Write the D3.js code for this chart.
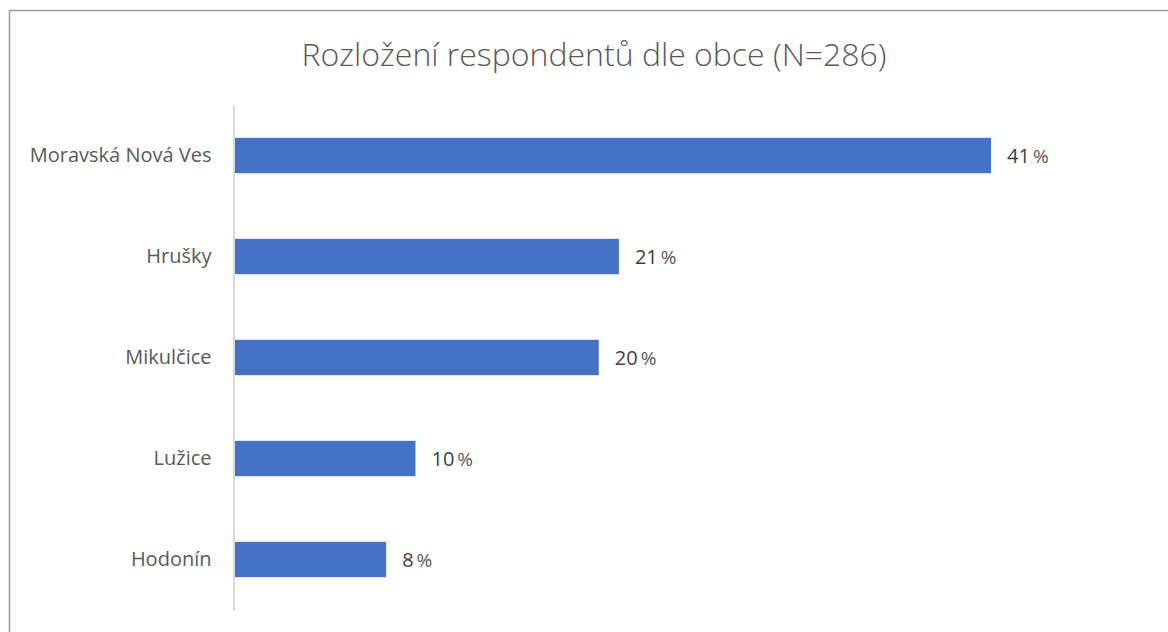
<!DOCTYPE html>
<html>
<head>
<meta charset="utf-8">
<script src="https://cdn.jsdelivr.net/npm/d3@7"></script>
<style>
  body { margin: 0; background: #fff; }
  text { font-family: "Open Sans", "Noto Sans", sans-serif; }
</style>
</head>
<body>
<div id="chart"></div>
<script>
const title = "Rozložení respondentů dle obce (N=286)";
const obce = ["Moravská Nová Ves", "Hrušky", "Mikulčice", "Lužice", "Hodonín"];
const podil = [41.3, 21.0, 19.9, 9.9, 8.3];

const W = 1168, H = 632;
const margin = {top: 105, right: 130, bottom: 22, left: 234};

const svg = d3.select("#chart").append("svg")
    .attr("width", W)
    .attr("height", H);

// frame (only top + left visible in the crop)
svg.append("path")
    .attr("d", `M9.5,${H} V10.5 H${W}`)
    .attr("fill", "none")
    .attr("stroke", "#9a9a9a")
    .attr("stroke-width", 1.5);

svg.append("text")
    .attr("x", 594)
    .attr("y", 66)
    .attr("text-anchor", "middle")
    .style("font-size", "32px")
    .style("font-weight", 300)
    .style("fill", "#595959")
    .text(title);

const x = d3.scaleLinear()
    .domain([0, 41.3])
    .range([margin.left, 991]);

const y = d3.scaleBand()
    .domain(obce)
    .range([margin.top, H - margin.bottom])
    .paddingInner(0.65)
    .paddingOuter(0.325);

const data = obce.map((o, i) => ({obec: o, v: podil[i]}));

svg.append("g")
  .selectAll("rect")
  .data(data)
  .join("rect")
    .attr("x", x(0))
    .attr("y", d => y(d.obec))
    .attr("width", d => x(d.v) - x(0))
    .attr("height", y.bandwidth())
    .attr("fill", "#4472c4");

// vertical axis
const yAxis = svg.append("g")
    .attr("transform", `translate(${margin.left - 0.5},0)`)
    .call(d3.axisLeft(y).tickSize(0).tickPadding(22));
yAxis.select(".domain").attr("stroke", "#d9d9d9").attr("stroke-width", 2);
yAxis.selectAll("text")
    .style("font-size", "20px")
    .style("fill", "#595959")
    .style("font-family", "'Open Sans', 'Noto Sans', sans-serif");

// value labels
const lbl = svg.append("g")
  .selectAll("text")
  .data(data)
  .join("text")
    .attr("x", d => x(d.v) + 16)
    .attr("y", d => y(d.obec) + y.bandwidth() / 2)
    .attr("dy", "0.35em")
    .style("font-size", "20px")
    .style("fill", "#404040");
lbl.append("tspan").text(d => Math.round(d.v));
lbl.append("tspan").attr("dx", 3).style("font-size", "19px").style("fill", "#595959").text("%");
</script>
</body>
</html>
